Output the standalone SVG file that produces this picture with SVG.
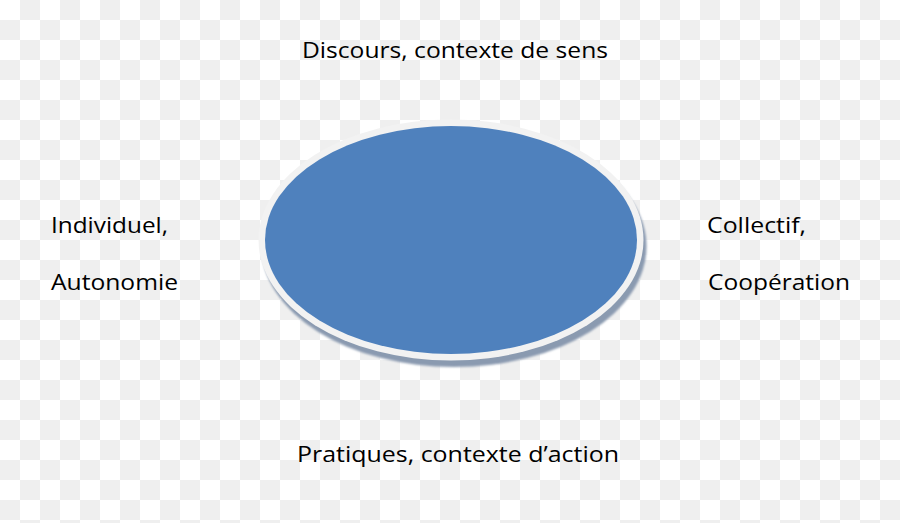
<svg xmlns="http://www.w3.org/2000/svg" width="900" height="523" viewBox="0 0 900 523">
<defs>
<pattern id="checker" width="40" height="40" patternUnits="userSpaceOnUse">
<rect width="40" height="40" fill="#ffffff"/>
<rect x="20" y="0" width="20" height="20" fill="#efefef"/>
<rect x="0" y="20" width="20" height="20" fill="#efefef"/>
</pattern>
<filter id="soft" x="-10%" y="-10%" width="120%" height="120%">
<feGaussianBlur stdDeviation="0.8"/>
</filter>
</defs>
<style>
.lbl{font-family:"Open Sans","Liberation Sans",sans-serif;font-size:21px;fill:#000000;font-variant-ligatures:none;font-feature-settings:"liga" 0,"clig" 0,"dlig" 0,"calt" 0}
</style>
<rect width="900" height="523" fill="url(#checker)"/>
<g id="ellipse">
<ellipse cx="454" cy="246.5" rx="192.5" ry="120.5" fill="#8a9ab0" filter="url(#soft)"/>
<ellipse cx="451" cy="240" rx="192.5" ry="120.5" fill="#f2f2f2"/>
<ellipse cx="451" cy="240" rx="186" ry="114" fill="#4f81bd"/>
</g>
<g id="connectors"></g>
<g id="label-top"><text class="lbl" x="302" y="58" textLength="306" lengthAdjust="spacingAndGlyphs">Discours, contexte de sens</text></g>
<g id="label-left">
<text class="lbl" x="51" y="233" textLength="117" lengthAdjust="spacingAndGlyphs">Individuel,</text>
<text class="lbl" x="51" y="290" textLength="127" lengthAdjust="spacingAndGlyphs">Autonomie</text>
</g>
<g id="label-right">
<text class="lbl" x="707" y="233" textLength="99" lengthAdjust="spacingAndGlyphs">Collectif,</text>
<text class="lbl" x="708" y="290" textLength="142" lengthAdjust="spacingAndGlyphs">Coopération</text>
</g>
<g id="label-bottom"><text class="lbl" x="297" y="462" textLength="322" lengthAdjust="spacingAndGlyphs">Pratiques, contexte d’action</text></g>
</svg>
